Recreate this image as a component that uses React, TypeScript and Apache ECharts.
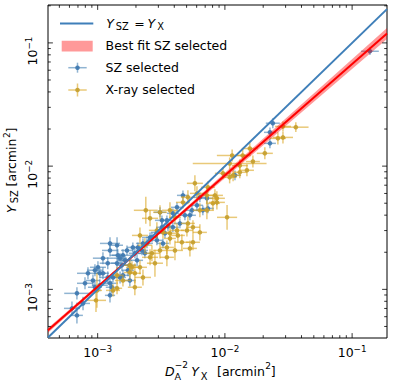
import React, { useEffect, useRef } from 'react';
import * as echarts from 'echarts';

// ---------- axis ranges ----------
const X_MIN = 4.07e-4;
const X_MAX = 0.188;
const Y_MIN = 4.03e-4;
const Y_MAX = 0.203;

// ---------- SZ selected sample (x = D_A^-2 Y_X, y = Y_SZ, errors in dex) ----------
const szX = [
  6.28e-4, 6.87e-4, 6.87e-4, 7.67e-4, 7.95e-4, 8.39e-4, 9.52e-4, 9.18e-4, 1.005e-3, 1.04e-3,
  1.10e-3, 1.20e-3, 1.25e-3, 1.25e-3, 1.29e-3, 1.25e-3, 1.42e-3, 1.25e-3, 1.44e-3, 1.10e-3,
  1.20e-3, 9.52e-4, 1.04e-3, 1.32e-3, 1.58e-3, 1.58e-3, 1.55e-3, 1.73e-3, 1.50e-3, 1.79e-3,
  1.79e-3, 2.04e-3, 2.23e-3, 2.44e-3, 2.67e-3, 2.92e-3, 3.20e-3, 3.50e-3, 3.90e-3, 1.70e-3,
  1.89e-3, 1.64e-3, 3.20e-3, 3.57e-3, 3.90e-3, 4.43e-3, 4.85e-3, 5.51e-3, 4.20e-3, 4.68e-3,
  7.22e-3, 2.58e-3, 2.27e-3, 2.07e-3, 2.92e-3, 3.26e-3, 6.36e-3, 7.35e-3, 6.71e-3, 1.20e-2,
  2.26e-2, 2.38e-2, 2.26e-2, 0.138, 3.09e-3, 2.35e-3, 1.42e-3, 1.50e-3, 1.96e-3, 3.38e-3,
  5.31e-3, 6.03e-3,
];
const szY = [
  7.01e-4, 6.15e-4, 9.28e-4, 7.69e-4, 1.12e-3, 1.35e-3, 1.04e-3, 1.18e-3, 1.51e-3, 1.08e-3,
  1.35e-3, 1.25e-3, 2.07e-3, 8.94e-4, 1.04e-3, 1.12e-3, 2.28e-3, 2.36e-3, 1.89e-3, 1.79e-3,
  1.63e-3, 1.43e-3, 1.35e-3, 1.25e-3, 1.30e-3, 1.89e-3, 1.57e-3, 1.43e-3, 1.25e-3, 1.18e-3,
  1.57e-3, 1.72e-3, 2.07e-3, 2.36e-3, 2.64e-3, 2.90e-3, 3.19e-3, 3.63e-3, 4.14e-3, 2.07e-3,
  2.19e-3, 1.72e-3, 3.63e-3, 3.25e-3, 3.19e-3, 3.43e-3, 3.99e-3, 4.38e-3, 4.63e-3, 5.79e-3,
  5.48e-3, 2.64e-3, 2.36e-3, 2.19e-3, 2.50e-3, 2.36e-3, 5.58e-3, 4.54e-3, 4.38e-3, 8.42e-3,
  1.53e-2, 2.23e-2, 1.88e-2, 8.55e-2, 4.22e-3, 1.96e-3, 1.63e-3, 1.79e-3, 1.96e-3, 2.85e-3,
  3.99e-3, 4.81e-3,
];
const szXErr = [
  0.063, 0.047, 0.10, 0.055, 0.063, 0.086, 0.055, 0.055, 0.063, 0.063,
  0.047, 0.063, 0.063, 0.04, 0.047, 0.047, 0.047, 0.079, 0.047, 0.079,
  0.063, 0.063, 0.047, 0.047, 0.047, 0.10, 0.047, 0.047, 0.047, 0.047,
  0.047, 0.047, 0.047, 0.047, 0.047, 0.047, 0.047, 0.047, 0.047, 0.047,
  0.047, 0.055, 0.055, 0.047, 0.047, 0.047, 0.047, 0.047, 0.047, 0.047,
  0.047, 0.063, 0.055, 0.055, 0.047, 0.047, 0.047, 0.047, 0.055, 0.047,
  0.047, 0.055, 0.047, 0.07, 0.047, 0.055, 0.047, 0.055, 0.047, 0.047,
  0.047, 0.047,
];
const szYErr = [
  0.055, 0.065, 0.049, 0.055, 0.049, 0.049, 0.049, 0.049, 0.049, 0.049,
  0.049, 0.049, 0.049, 0.057, 0.049, 0.04, 0.065, 0.049, 0.049, 0.049,
  0.049, 0.049, 0.04, 0.04, 0.04, 0.049, 0.049, 0.049, 0.049, 0.049,
  0.049, 0.049, 0.04, 0.04, 0.04, 0.04, 0.04, 0.04, 0.04, 0.04,
  0.04, 0.04, 0.04, 0.04, 0.04, 0.04, 0.04, 0.04, 0.04, 0.04,
  0.04, 0.04, 0.04, 0.04, 0.04, 0.04, 0.04, 0.04, 0.04, 0.04,
  0.04, 0.04, 0.04, 0.03, 0.04, 0.04, 0.049, 0.04, 0.04, 0.04,
  0.04, 0.04,
];

// ---------- X-ray selected sample ----------
const xrX = [
  9.70e-4, 9.87e-4, 1.42e-3, 1.42e-3, 1.79e-3, 1.96e-3, 1.86e-3, 2.82e-3, 1.32e-3, 1.58e-3,
  1.96e-3, 2.27e-3, 1.79e-3, 2.15e-3, 2.58e-3, 3.09e-3, 3.50e-3, 3.50e-3, 3.70e-3, 4.20e-3,
  2.92e-3, 2.39e-3, 3.70e-3, 4.05e-3, 2.58e-3, 3.09e-3, 5.12e-3, 5.61e-3, 5.03e-3, 4.27e-3,
  6.36e-3, 5.61e-3, 4.59e-3, 3.70e-3, 4.05e-3, 2.67e-3, 2.35e-3, 2.15e-3, 5.31e-3, 3.26e-3,
  5.81e-3, 6.03e-3, 5.12e-3, 4.68e-3, 6.36e-3, 7.22e-3, 8.05e-3, 7.22e-3, 8.65e-3, 1.04e-2,
  9.64e-3, 1.16e-2, 1.31e-2, 1.49e-2, 1.09e-2, 7.35e-3, 1.14e-2, 1.38e-2, 1.57e-2, 2.06e-2,
  2.61e-2, 2.86e-2, 2.86e-2, 3.61e-2, 1.09e-2, 1.66e-2, 1.31e-2, 8.35e-3, 8.65e-3,
];
const xrY = [
  8.14e-4, 9.81e-4, 1.30e-3, 1.02e-3, 1.57e-3, 1.35e-3, 1.51e-3, 1.63e-3, 9.81e-4, 1.18e-3,
  1.04e-3, 1.25e-3, 1.37e-3, 1.51e-3, 1.82e-3, 2.07e-3, 2.19e-3, 1.82e-3, 2.85e-3, 3.01e-3,
  3.01e-3, 4.38e-3, 4.38e-3, 3.84e-3, 3.77e-3, 4.22e-3, 3.43e-3, 3.19e-3, 3.01e-3, 2.74e-3,
  2.90e-3, 2.41e-3, 2.41e-3, 2.59e-3, 2.07e-3, 1.96e-3, 2.28e-3, 2.74e-3, 2.15e-3, 2.90e-3,
  7.25e-3, 6.01e-3, 5.58e-3, 5.08e-3, 4.38e-3, 4.38e-3, 4.99e-3, 5.79e-3, 5.48e-3, 3.84e-3,
  8.74e-3, 8.42e-3, 8.91e-3, 9.25e-3, 8.11e-3, 6.73e-3, 1.22e-2, 1.22e-2, 1.39e-2, 1.27e-2,
  1.68e-2, 1.71e-2, 2.10e-2, 2.07e-2, 1.05e-2, 1.09e-2, 1.01e-2, 5.79e-3, 5.08e-3,
];
const xrXErr = [
  0.079, 0.04, 0.04, 0.04, 0.047, 0.047, 0.047, 0.063, 0.055, 0.063,
  0.055, 0.063, 0.047, 0.055, 0.063, 0.055, 0.055, 0.055, 0.055, 0.055,
  0.063, 0.094, 0.063, 0.047, 0.063, 0.055, 0.055, 0.055, 0.047, 0.055,
  0.055, 0.055, 0.055, 0.047, 0.063, 0.063, 0.055, 0.063, 0.055, 0.055,
  0.063, 0.055, 0.055, 0.055, 0.055, 0.055, 0.055, 0.063, 0.063, 0.079,
  0.063, 0.063, 0.055, 0.055, 0.055, 0.055, 0.12, 0.063, 0.063, 0.063,
  0.063, 0.079, 0.063, 0.10, 0.29, 0.055, 0.063, 0.063, 0.063,
];
const xrYErr = [
  0.094, 0.14, 0.07, 0.049, 0.065, 0.08, 0.049, 0.11, 0.049, 0.049,
  0.065, 0.065, 0.049, 0.057, 0.065, 0.065, 0.057, 0.073, 0.065, 0.057,
  0.065, 0.11, 0.065, 0.057, 0.065, 0.057, 0.057, 0.057, 0.049, 0.057,
  0.065, 0.065, 0.065, 0.049, 0.08, 0.065, 0.057, 0.065, 0.065, 0.049,
  0.065, 0.057, 0.057, 0.049, 0.057, 0.073, 0.057, 0.057, 0.057, 0.10,
  0.049, 0.049, 0.049, 0.049, 0.049, 0.049, 0.049, 0.049, 0.049, 0.049,
  0.049, 0.049, 0.04, 0.04, 0.049, 0.049, 0.049, 0.049, 0.057,
];

// ---------- lines ----------
const equalityX = [X_MIN, X_MAX];
const equalityY = [X_MIN, X_MAX];
const fitX = [4.07e-4, 0.188];
const fitY = [4.65e-4, 0.119];
const bandX = [4.07e-4, 2.0e-3, 0.188];
const bandLo = [4.44e-4, 1.92e-3, 0.1074];
const bandHi = [4.86e-4, 2.0e-3, 0.132];

// ---------- ticks ----------
const majorTickValues = [1e-3, 1e-2, 1e-1];
const majorTickExponents = ['−3', '−2', '−1'];
const minorTicksX = [
  5e-4, 6e-4, 7e-4, 8e-4, 9e-4,
  2e-3, 3e-3, 4e-3, 5e-3, 6e-3, 7e-3, 8e-3, 9e-3,
  2e-2, 3e-2, 4e-2, 5e-2, 6e-2, 7e-2, 8e-2, 9e-2,
];
const minorTicksY = [
  5e-4, 6e-4, 7e-4, 8e-4, 9e-4,
  2e-3, 3e-3, 4e-3, 5e-3, 6e-3, 7e-3, 8e-3, 9e-3,
  2e-2, 3e-2, 4e-2, 5e-2, 6e-2, 7e-2, 8e-2, 9e-2,
  2e-1,
];

const FF = 'DejaVu Sans';
const BLUE = '#3f7fb9';
const SZ_BAR = 'rgba(70,130,180,0.6)';
const SZ_DOT = 'rgba(62,120,175,0.9)';
const XR_BAR = 'rgba(218,165,32,0.6)';
const XR_DOT = 'rgba(196,158,45,0.9)';
const SUB = 9.8;

function errorBarSeries(name: string, xs: number[], ys: number[], xe: number[], ye: number[], bar: string, dot: string) {
  return {
    type: 'custom',
    name,
    coordinateSystem: 'cartesian2d',
    clip: true,
    silent: true,
    encode: { x: 0, y: 1 },
    data: xs.map((x, i) => [x, ys[i], xe[i], ye[i]]),
    renderItem: (_p: any, api: any) => {
      const x = api.value(0);
      const y = api.value(1);
      const fx = Math.pow(10, api.value(2));
      const fy = Math.pow(10, api.value(3));
      const c = api.coord([x, y]);
      const l = api.coord([x / fx, y]);
      const r = api.coord([x * fx, y]);
      const t = api.coord([x, y * fy]);
      const b = api.coord([x, y / fy]);
      return {
        type: 'group',
        children: [
          { type: 'line', shape: { x1: l[0], y1: l[1], x2: r[0], y2: r[1] }, style: { stroke: bar, lineWidth: 1.5 } },
          { type: 'line', shape: { x1: t[0], y1: t[1], x2: b[0], y2: b[1] }, style: { stroke: bar, lineWidth: 1.5 } },
          { type: 'circle', shape: { cx: c[0], cy: c[1], r: 2.3 }, style: { fill: dot } },
        ],
      };
    },
  };
}

function tickSeries(axis: 'x' | 'y', values: number[], len: number) {
  return {
    type: 'custom',
    coordinateSystem: 'cartesian2d',
    clip: false,
    silent: true,
    z: 10,
    encode: { x: 0, y: 1 },
    data: values.map((v) => (axis === 'x' ? [v, Y_MIN] : [X_MIN, v])),
    renderItem: (_p: any, api: any) => {
      const st = { stroke: '#000', lineWidth: 0.8 };
      if (axis === 'x') {
        const v = api.value(0);
        const b = api.coord([v, Y_MIN]);
        const t = api.coord([v, Y_MAX]);
        return {
          type: 'group',
          children: [
            { type: 'line', shape: { x1: b[0], y1: b[1], x2: b[0], y2: b[1] - len }, style: st },
            { type: 'line', shape: { x1: t[0], y1: t[1], x2: t[0], y2: t[1] + len }, style: st },
          ],
        };
      }
      const v = api.value(1);
      const l = api.coord([X_MIN, v]);
      const r = api.coord([X_MAX, v]);
      return {
        type: 'group',
        children: [
          { type: 'line', shape: { x1: l[0], y1: l[1], x2: l[0] + len, y2: l[1] }, style: st },
          { type: 'line', shape: { x1: r[0], y1: r[1], x2: r[0] - len, y2: r[1] }, style: st },
        ],
      };
    },
  };
}

function txt(text: string, x: number, y: number, size: number, italic = false) {
  return {
    type: 'text',
    x,
    y,
    silent: true,
    style: {
      text,
      fontSize: size,
      fontFamily: FF,
      fontStyle: italic ? 'italic' : 'normal',
      fill: '#000',
      textAlign: 'left',
      textVerticalAlign: 'middle',
    },
  };
}

function tickLabelSeries(axis: 'x' | 'y') {
  return {
    type: 'custom',
    coordinateSystem: 'cartesian2d',
    clip: false,
    silent: true,
    z: 10,
    encode: { x: 0, y: 1 },
    data: majorTickValues.map((v) => (axis === 'x' ? [v, Y_MIN] : [X_MIN, v])),
    renderItem: (p: any, api: any) => {
      const exp = majorTickExponents[p.dataIndex];
      if (axis === 'x') {
        const c = api.coord([api.value(0), Y_MIN]);
        return {
          type: 'group',
          children: [txt('10', c[0] - 14.4, c[1] + 14, 12.5), txt(exp, c[0] + 1.5, c[1] + 10.8, 8.8)],
        };
      }
      const c = api.coord([X_MIN, api.value(1)]);
      return {
        type: 'group',
        x: c[0] - 11.3,
        y: c[1] + 8.2,
        rotation: Math.PI / 2,
        children: [txt('10', -14.4, -4.5, 12.5), txt(exp, 1.5, -7.8, 8.8)],
      };
    },
  };
}

export default function App() {
  const ref = useRef<HTMLDivElement>(null);
  useEffect(() => {
    if (!ref.current) return;
    const chart = echarts.init(ref.current, undefined, { renderer: 'svg' });
    const hidden = {
      axisLine: { show: false },
      axisTick: { show: false },
      axisLabel: { show: false },
      splitLine: { show: false },
      minorTick: { show: false },
    };
    chart.setOption({
      animation: false,
      backgroundColor: '#fff',
      grid: { left: 48, right: 8, top: 5, bottom: 49, show: true, borderColor: '#000', borderWidth: 1, backgroundColor: 'transparent' },
      xAxis: { type: 'log', logBase: 10, min: X_MIN, max: X_MAX, ...hidden },
      yAxis: { type: 'log', logBase: 10, min: Y_MIN, max: Y_MAX, ...hidden },
      series: [
        errorBarSeries('SZ selected', szX, szY, szXErr, szYErr, SZ_BAR, SZ_DOT),
        errorBarSeries('X-ray selected', xrX, xrY, xrXErr, xrYErr, XR_BAR, XR_DOT),
        {
          type: 'custom',
          name: 'Best fit SZ selected',
          coordinateSystem: 'cartesian2d',
          clip: true,
          silent: true,
          encode: { x: 0, y: 1 },
          data: bandX.map((x, i) => [x, bandLo[i], bandHi[i]]),
          renderItem: (p: any, api: any) => {
            if (p.dataIndex !== 0) return null;
            const pts: number[][] = [];
            bandX.forEach((x, i) => pts.push(api.coord([x, bandHi[i]])));
            for (let i = bandX.length - 1; i >= 0; i--) pts.push(api.coord([bandX[i], bandLo[i]]));
            return { type: 'polygon', shape: { points: pts }, style: { fill: 'rgba(255,0,0,0.4)' } };
          },
        },
        {
          type: 'line',
          data: fitX.map((x, i) => [x, fitY[i]]),
          symbol: 'none',
          silent: true,
          clip: true,
          lineStyle: { color: '#ff0000', width: 2 },
        },
        {
          type: 'line',
          data: equalityX.map((x, i) => [x, equalityY[i]]),
          symbol: 'none',
          silent: true,
          clip: true,
          lineStyle: { color: BLUE, width: 2 },
        },
        tickSeries('x', majorTickValues, 4.9),
        tickSeries('x', minorTicksX, 2.8),
        tickSeries('y', majorTickValues, 4.9),
        tickSeries('y', minorTicksY, 2.8),
        tickLabelSeries('x'),
        tickLabelSeries('y'),
      ],
      graphic: [
        // legend
        { type: 'line', silent: true, shape: { x1: 60, y1: 23.5, x2: 93.3, y2: 23.5 }, style: { stroke: BLUE, lineWidth: 2 } },
        txt('Y', 106.3, 23.8, 12.5, true),
        txt('SZ', 115.8, 26.4, SUB),
        txt('=', 134.2, 23.8, 12.5),
        txt('Y', 147.5, 23.8, 12.5, true),
        txt('X', 157.3, 26.4, SUB),
        { type: 'rect', silent: true, shape: { x: 61.7, y: 40.8, width: 31, height: 10.8 }, style: { fill: 'rgba(255,0,0,0.4)' } },
        txt('Best fit SZ selected', 105.6, 45.8, 12.5),
        { type: 'line', silent: true, shape: { x1: 68.3, y1: 67.7, x2: 86.7, y2: 67.7 }, style: { stroke: SZ_BAR, lineWidth: 1.5 } },
        { type: 'line', silent: true, shape: { x1: 77.5, y1: 62.7, x2: 77.5, y2: 72.7 }, style: { stroke: SZ_BAR, lineWidth: 1.5 } },
        { type: 'circle', silent: true, shape: { cx: 77.5, cy: 67.7, r: 2.3 }, style: { fill: SZ_DOT } },
        txt('SZ selected', 105.6, 67.3, 12.5),
        { type: 'line', silent: true, shape: { x1: 68.3, y1: 90, x2: 86.7, y2: 90 }, style: { stroke: XR_BAR, lineWidth: 1.5 } },
        { type: 'line', silent: true, shape: { x1: 77.5, y1: 83.5, x2: 77.5, y2: 96.5 }, style: { stroke: XR_BAR, lineWidth: 1.5 } },
        { type: 'circle', silent: true, shape: { cx: 77.5, cy: 90, r: 2.3 }, style: { fill: XR_DOT } },
        txt('X-ray selected', 105.6, 89, 12.5),
        // x-axis title
        txt('D', 165, 371.3, 12.5, true),
        txt('A', 174.5, 376, 9.5),
        txt('−2', 174.8, 365, 9),
        txt('Y', 191.3, 371.3, 12.5, true),
        txt('X', 200.8, 376, SUB),
        txt('[arcmin', 217, 371.3, 12.5),
        txt('2', 265.2, 366, 9),
        txt(']', 270.8, 371.3, 12.5),
        // y-axis title (rotated, reading upward)
        {
          type: 'group',
          x: 16,
          y: 213,
          rotation: Math.PI / 2,
          children: [
            txt('Y', 0, -4.3, 12.5, true),
            txt('SZ', 9.7, -1.6, SUB),
            txt('[arcmin', 26.6, -4.3, 12.5),
            txt('2', 74.9, -9, 9),
            txt(']', 80.5, -4.3, 12.5),
          ],
        },
      ],
    });
    return () => chart.dispose();
  }, []);
  return <div ref={ref} style={{ position: 'fixed', left: 0, top: 0, width: 395, height: 387 }} />;
}
